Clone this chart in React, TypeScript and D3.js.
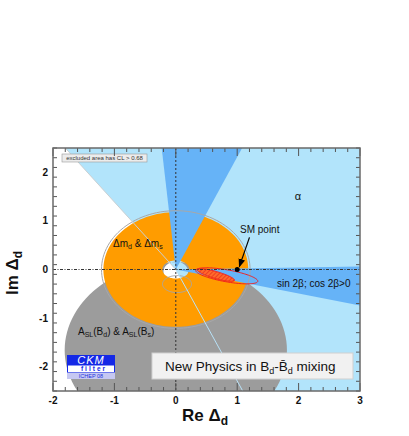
import React from "react";
import * as d3 from "d3";

// ---- data ----
const X_DOMAIN: [number, number] = [-2, 3];
const Y_DOMAIN: [number, number] = [-2.5, 2.5];
const xTickValues = [-2, -1, 0, 1, 2, 3];
const yTickValues = [-2, -1, 0, 1, 2];
const minorStep = 0.2;

// alpha constraint wedge (light blue), polygon in (Re, Im)
const alphaWedge: [number, number][] = [[0, 0], [1.09, -2.5], [3, -2.5], [3, 2.5], [-1.8, 2.5]];
const alphaRays: [number, number][] = [[-1.8, 2.5], [1.09, -2.5]];
// beta-like wedges (medium blue)
const upperWedge: [number, number][] = [[0, 0], [-0.23, 2.5], [1.08, 2.5]];
const sin2bWedge: [number, number][] = [[0, 0], [3, 0.06], [3, -0.74]];
// Δm_d & Δm_s ring (orange)
const dmOuterR = 1.18;
const dmInnerRx = 0.22;
const dmInnerRy = 0.185;
// A_SL disk (grey)
const aslCenter: [number, number] = [0, -1.66];
const aslR = 1.81;
const aslHoleCenter: [number, number] = [0, -0.04];
const aslHoleR = 0.2;
// grey outline contours
const outlineBigR = 1.21;
const outlineSmallCenter: [number, number] = [0.02, -0.3];
const outlineSmallRx = 0.236;
const outlineSmallRy = 0.175;
// fit contours: center, major vector, minor vector
const outerContour = { c: [0.83, -0.13], m: [0.505, -0.113], n: [-0.017, -0.121] };
const innerContour = { c: [0.651, -0.113], m: [0.305, -0.111], n: [-0.016, -0.069] };
const smPoint: [number, number] = [1.0, 0.0];
const smArrow: [number, number][] = [[1.2, 0.66], [1.035, 0.06]];

const W = 409;
const H = 436;
const x = d3.scaleLinear().domain(X_DOMAIN).range([53, 360]);
const y = d3.scaleLinear().domain(Y_DOMAIN).range([391, 148]);

const line = d3.line<[number, number]>().x((d) => x(d[0])).y((d) => y(d[1]));

function ellipsePts(cx: number, cy: number, rx: number, ry: number, n = 120): [number, number][] {
  return d3.range(n).map((i) => {
    const t = (i / n) * Math.PI * 2;
    return [cx + rx * Math.cos(t), cy + ry * Math.sin(t)] as [number, number];
  });
}
function vecEllipse(e: { c: number[]; m: number[]; n: number[] }, n = 120): [number, number][] {
  return d3.range(n).map((i) => {
    const t = (i / n) * Math.PI * 2;
    return [
      e.c[0] + e.m[0] * Math.cos(t) + e.n[0] * Math.sin(t),
      e.c[1] + e.m[1] * Math.cos(t) + e.n[1] * Math.sin(t),
    ] as [number, number];
  });
}
const closed = (pts: [number, number][]) => line(pts) + "Z";

const LIGHT = "#b2e4fb";
const MID = "#66b3f7";
const ORANGE = "#ff9c00";
const GREY = "#9c9c9c";
const FONT = "Liberation Sans, Arial, Helvetica, sans-serif";

export default function App() {
  const minorX = d3.range(X_DOMAIN[0], X_DOMAIN[1] + 1e-9, minorStep);
  const minorY = d3.range(Y_DOMAIN[0], Y_DOMAIN[1] + 1e-9, minorStep);
  const left = x(X_DOMAIN[0]);
  const right = x(X_DOMAIN[1]);
  const top = y(Y_DOMAIN[1]);
  const bottom = y(Y_DOMAIN[0]);
  const isMajor = (v: number) => Math.abs(v - Math.round(v)) < 1e-6;

  const aslPath =
    closed(ellipsePts(aslCenter[0], aslCenter[1], aslR, aslR)) +
    closed(ellipsePts(aslHoleCenter[0], aslHoleCenter[1], aslHoleR, aslHoleR));
  const dmPath =
    closed(ellipsePts(0, 0, dmOuterR, dmOuterR)) + closed(ellipsePts(0, 0, dmInnerRx, dmInnerRy));

  const sub = { fontSize: 7 };
  return (
    <svg width={W} height={H} style={{ position: "absolute", left: 0, top: 0, background: "#fff" }}>
      <defs>
        <clipPath id="plot">
          <rect x={left} y={top} width={right - left} height={bottom - top} />
        </clipPath>
        <marker id="arr" viewBox="0 0 10 10" refX="9" refY="5" markerWidth="7" markerHeight="7" orient="auto">
          <path d="M0,1 L10,5 L0,9 Z" fill="#000" />
        </marker>
        <pattern id="hatch" width="3" height="3" patternUnits="userSpaceOnUse" patternTransform="rotate(45)">
          <rect width="3" height="3" fill="#ff6a2a" />
          <line x1="0" y1="0" x2="0" y2="3" stroke="#e4221a" strokeWidth="1.2" />
        </pattern>
      </defs>
      <g clipPath="url(#plot)">
        <rect x={left} y={top} width={right - left} height={bottom - top} fill="#fff" />
        <path d={closed(alphaWedge)} fill={LIGHT} />
        <path d={aslPath} fill={GREY} fillRule="evenodd" />
        <path d={dmPath} fill={ORANGE} fillRule="evenodd" />
        <path d={closed(upperWedge)} fill={MID} />
        <path d={closed(sin2bWedge)} fill={MID} />
        <path d={closed(ellipsePts(0, 0, outlineBigR, outlineBigR))} fill="none" stroke="#a8a8a8" strokeWidth={1} />
        <path
          d={closed(ellipsePts(outlineSmallCenter[0], outlineSmallCenter[1], outlineSmallRx, outlineSmallRy))}
          fill="none"
          stroke="#a8a8a8"
          strokeWidth={1}
        />
        {alphaRays.map((p, i) => (
          <path key={i} d={line([[0, 0], p])} stroke={i === 0 ? "#c9cfd2" : "#b8e2f8"} strokeWidth={1} fill="none" />
        ))}
        <path d={closed(vecEllipse(outerContour))} fill="none" stroke="#f02020" strokeWidth={1} />
        <path d={closed(vecEllipse(innerContour))} fill="url(#hatch)" stroke="#f02020" strokeWidth={1} />
        <line x1={x(0)} x2={x(0)} y1={top} y2={bottom} stroke="#333" strokeWidth={1} strokeDasharray="2,2" />
        <line x1={left} x2={right} y1={y(0)} y2={y(0)} stroke="#333" strokeWidth={1} strokeDasharray="3,1.5,1,1.5" />
      </g>

      {/* SM point */}
      <circle cx={x(smPoint[0])} cy={y(smPoint[1])} r={2.5} fill="#000" />
      <path d={line(smArrow) as string} stroke="#000" strokeWidth={1.2} fill="none" markerEnd="url(#arr)" />
      <text x={240} y={233} fontFamily={FONT} fontSize={10} fill="#111">SM point</text>

      {/* region labels */}
      <text x={298} y={200} fontFamily={FONT} fontSize={11} textAnchor="middle" fill="#111">α</text>
      <text x={113} y={247} fontFamily={FONT} fontSize={10} fill="#111">
        Δm<tspan dy={2} style={sub}>d</tspan>
        <tspan dy={-2}> &amp; Δm</tspan>
        <tspan dy={2} style={sub}>s</tspan>
      </text>
      <text x={277} y={287} fontFamily={FONT} fontSize={10} fill="#111">sin 2β; cos 2β&gt;0</text>
      <text x={78} y={335} fontFamily={FONT} fontSize={10} fill="#111">
        A<tspan dy={2} style={sub}>SL</tspan>
        <tspan dy={-2}>(B</tspan>
        <tspan dy={2} style={sub}>d</tspan>
        <tspan dy={-2}>) &amp; A</tspan>
        <tspan dy={2} style={sub}>SL</tspan>
        <tspan dy={-2}>(B</tspan>
        <tspan dy={2} style={sub}>s</tspan>
        <tspan dy={-2}>)</tspan>
      </text>

      {/* CL note */}
      <rect x={62} y={154} width={85} height={8} fill="#ececec" stroke="#999" strokeWidth={0.6} />
      <text x={104.5} y={160.3} fontFamily={FONT} fontSize={6} textAnchor="middle" fill="#333">
        excluded area has CL &gt; 0.68
      </text>

      {/* title box */}
      <rect x={152} y={353} width={201} height={26} fill="#f1f1f1" stroke="#cfcfcf" strokeWidth={1} />
      <text x={165} y={371} fontFamily={FONT} fontSize={13.5} fill="#111">
        New Physics in B<tspan dy={3} fontSize={9}>d</tspan>
        <tspan dy={-3}>-B̄</tspan>
        <tspan dy={3} fontSize={9}>d</tspan>
        <tspan dy={-3}> mixing</tspan>
      </text>

      {/* CKMfitter logo */}
      <rect x={67} y={355} width={48} height={10} fill="#1428e6" />
      <text x={91} y={364} fontFamily={FONT} fontSize={11} fontStyle="italic" fill="#fff" textAnchor="middle" letterSpacing={1}>
        CKM
      </text>
      <rect x={67.5} y={365} width={47} height={7.5} fill="#fff" stroke="#1428e6" strokeWidth={1} />
      <text x={94} y={371.3} fontFamily={FONT} fontSize={6.5} fontWeight="bold" fill="#1428e6" textAnchor="middle" letterSpacing={2}>
        filter
      </text>
      <rect x={67} y={372.5} width={48} height={6.5} fill="#c6c8f2" />
      <text x={91} y={378} fontFamily={FONT} fontSize={5.5} fill="#2233dd" textAnchor="middle">
        ICHEP 08
      </text>

      {/* frame + ticks */}
      <g stroke="#555" strokeWidth={1}>
        {minorX.map((v, i) => {
          const L = isMajor(v) ? 8 : 4;
          return (
            <g key={"x" + i}>
              <line x1={x(v)} x2={x(v)} y1={bottom} y2={bottom - L} />
              <line x1={x(v)} x2={x(v)} y1={top} y2={top + L} />
            </g>
          );
        })}
        {minorY.map((v, i) => {
          const L = isMajor(v) ? 8 : 4;
          return (
            <g key={"y" + i}>
              <line x1={left} x2={left + L} y1={y(v)} y2={y(v)} />
              <line x1={right} x2={right - L} y1={y(v)} y2={y(v)} />
            </g>
          );
        })}
      </g>
      <rect x={left} y={top} width={right - left} height={bottom - top} fill="none" stroke="#6a6a6a" strokeWidth={1.5} />

      {xTickValues.map((v) => (
        <text key={"xl" + v} x={x(v)} y={404} fontFamily={FONT} fontSize={10} fontWeight="bold" textAnchor="middle" fill="#111">
          {v}
        </text>
      ))}
      {yTickValues.map((v) => (
        <text key={"yl" + v} x={48} y={y(v) + 3.5} fontFamily={FONT} fontSize={10} fontWeight="bold" textAnchor="end" fill="#111">
          {v}
        </text>
      ))}

      <text x={205} y={421} fontFamily={FONT} fontSize={17} fontWeight="bold" textAnchor="middle" fill="#111">
        Re Δ<tspan dy={4} fontSize={12}>d</tspan>
      </text>
      <text transform="translate(18,273) rotate(-90)" fontFamily={FONT} fontSize={17} fontWeight="bold" textAnchor="middle" fill="#111">
        Im Δ<tspan dy={4} fontSize={12}>d</tspan>
      </text>
    </svg>
  );
}
